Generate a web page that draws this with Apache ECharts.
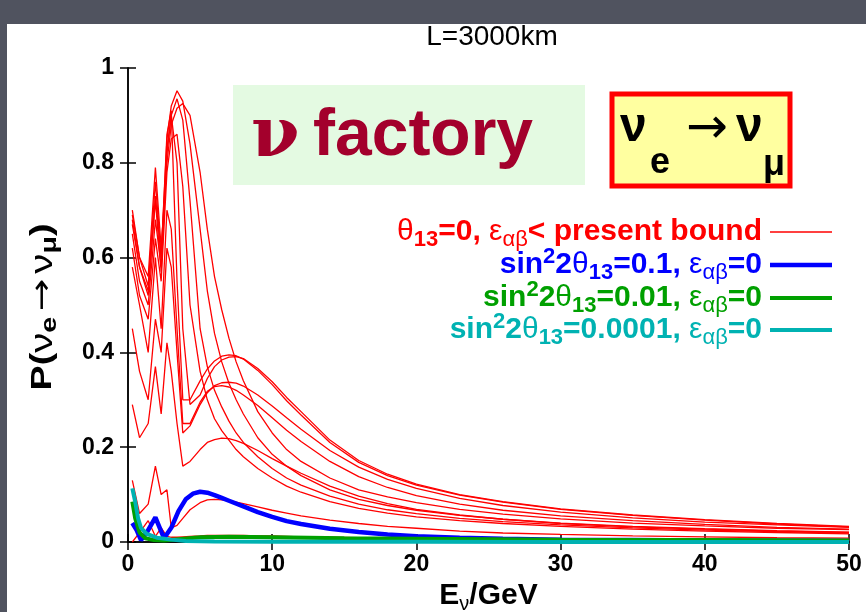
<!DOCTYPE html>
<html><head><meta charset="utf-8">
<script src="https://cdn.jsdelivr.net/npm/echarts@6/dist/echarts.min.js"></script>
<style>html,body{margin:0;padding:0;background:#50535f;}#c{width:866px;height:612px;}</style>
</head><body><div id="c"></div>
<script>
// Energy grid (GeV) shared by the red curves
const E = [0.3, 0.8, 1.4, 1.9, 2.3, 2.7, 3.0, 3.4, 3.8, 4.3, 5, 5.5, 6, 6.5, 7, 7.5, 8, 9, 10, 11, 12, 14, 16, 18, 20, 23, 26, 30, 35, 40, 45, 50];
// theta13=0, NSI eps < present bound (red family)
const redA1 = [0.70, 0.60, 0.56, 0.79, 0.62, 0.80, 0.88, 0.915, 0.925, 0.90, 0.78, 0.66, 0.56, 0.49, 0.43, 0.38, 0.34, 0.275, 0.23, 0.195, 0.17, 0.135, 0.11, 0.095, 0.083, 0.069, 0.059, 0.049, 0.040, 0.034, 0.029, 0.026];
const redA2 = [0.67, 0.58, 0.52, 0.73, 0.60, 0.85, 0.92, 0.952, 0.93, 0.84, 0.66, 0.53, 0.44, 0.38, 0.335, 0.30, 0.27, 0.22, 0.185, 0.16, 0.14, 0.11, 0.09, 0.077, 0.067, 0.056, 0.048, 0.040, 0.033, 0.028, 0.024, 0.021];
const redA3 = [0.65, 0.55, 0.50, 0.68, 0.58, 0.83, 0.90, 0.935, 0.89, 0.72, 0.45, 0.37, 0.32, 0.285, 0.255, 0.23, 0.21, 0.18, 0.155, 0.135, 0.12, 0.097, 0.08, 0.068, 0.06, 0.05, 0.043, 0.036, 0.03, 0.025, 0.022, 0.019];
const redA4 = [0.62, 0.52, 0.47, 0.64, 0.55, 0.78, 0.85, 0.86, 0.75, 0.50, 0.36, 0.30, 0.26, 0.235, 0.215, 0.195, 0.18, 0.155, 0.135, 0.118, 0.105, 0.085, 0.071, 0.061, 0.053, 0.045, 0.039, 0.033, 0.027, 0.023, 0.02, 0.017];
const redB1 = [0.69, 0.60, 0.54, 0.76, 0.60, 0.86, 0.91, 0.55, 0.30, 0.30, 0.34, 0.365, 0.382, 0.392, 0.395, 0.393, 0.386, 0.362, 0.332, 0.298, 0.268, 0.21, 0.168, 0.14, 0.12, 0.099, 0.084, 0.069, 0.056, 0.046, 0.038, 0.032];
const redB2 = [0.68, 0.58, 0.53, 0.72, 0.57, 0.82, 0.90, 0.80, 0.45, 0.29, 0.31, 0.345, 0.37, 0.384, 0.39, 0.391, 0.387, 0.366, 0.338, 0.305, 0.275, 0.215, 0.172, 0.143, 0.122, 0.1, 0.085, 0.07, 0.057, 0.047, 0.039, 0.033];
const redB3 = [0.45, 0.36, 0.30, 0.47, 0.40, 0.62, 0.58, 0.40, 0.23, 0.245, 0.29, 0.315, 0.33, 0.336, 0.337, 0.335, 0.329, 0.31, 0.287, 0.262, 0.238, 0.193, 0.158, 0.132, 0.113, 0.092, 0.077, 0.063, 0.051, 0.042, 0.036, 0.031];
const redB4 = [0.58, 0.50, 0.40, 0.60, 0.45, 0.70, 0.66, 0.45, 0.25, 0.25, 0.295, 0.318, 0.328, 0.33, 0.327, 0.32, 0.31, 0.288, 0.262, 0.236, 0.212, 0.17, 0.138, 0.115, 0.098, 0.08, 0.067, 0.055, 0.045, 0.037, 0.031, 0.027];
const redB5 = [0.29, 0.22, 0.25, 0.37, 0.27, 0.42, 0.36, 0.25, 0.16, 0.17, 0.195, 0.21, 0.216, 0.219, 0.218, 0.214, 0.208, 0.193, 0.176, 0.16, 0.145, 0.118, 0.097, 0.081, 0.069, 0.057, 0.048, 0.039, 0.032, 0.027, 0.023, 0.02];
const redB6 = [0.13, 0.06, 0.08, 0.16, 0.10, 0.11, 0.03, 0.035, 0.05, 0.068, 0.083, 0.089, 0.09, 0.089, 0.087, 0.084, 0.081, 0.074, 0.067, 0.061, 0.055, 0.046, 0.039, 0.033, 0.029, 0.023, 0.019, 0.016, 0.013, 0.011, 0.009, 0.008];
const redC  = [0.0, 0.02, 0.045, 0.012, 0.03, 0.012, 0.01, 0.01, 0.011, 0.012, 0.013, 0.014, 0.014, 0.014, 0.014, 0.014, 0.014, 0.013, 0.013, 0.012, 0.011, 0.01, 0.009, 0.008, 0.008, 0.007, 0.006, 0.005, 0.004, 0.004, 0.003, 0.003];
const redCurves = [redA1, redA2, redA3, redA4, redB1, redB2, redB3, redB4, redB5, redB6, redC];

// sin^2 2theta13 = 0.1, eps = 0
const blueE = [0.3, 0.6, 0.9, 1.3, 1.9, 2.2, 2.5, 3.0, 3.5, 4.0, 4.5, 5, 5.5, 6, 6.5, 7, 8, 9, 10, 11, 12, 14, 16, 18, 20, 23, 26, 30, 35, 40, 50];
const blueV = [0.04, 0.025, 0.004, 0.02, 0.052, 0.03, 0.008, 0.03, 0.065, 0.09, 0.102, 0.106, 0.104, 0.099, 0.093, 0.087, 0.075, 0.063, 0.053, 0.044, 0.038, 0.028, 0.021, 0.016, 0.012, 0.009, 0.007, 0.005, 0.004, 0.003, 0.002];
// sin^2 2theta13 = 0.01
const greenE = [0.3, 0.5, 0.8, 1.2, 1.8, 2.5, 3.5, 5, 7, 10, 15, 20, 30, 40, 50];
const greenV = [0.085, 0.05, 0.02, 0.008, 0.004, 0.003, 0.006, 0.01, 0.011, 0.01, 0.008, 0.007, 0.005, 0.004, 0.003];
// sin^2 2theta13 = 0.0001
const tealE = [0.3, 0.5, 0.7, 0.9, 1.3, 2, 3, 4, 6, 10, 20, 30, 50];
const tealV = [0.113, 0.085, 0.05, 0.03, 0.017, 0.009, 0.005, 0.002, 0.001, 0.0006, 0.0003, 0.0002, 0.0001];

const xTicks = [0, 10, 20, 30, 40, 50];
const yTicks = [0, 0.2, 0.4, 0.6, 0.8, 1];

const FF = 'Liberation Sans, Arial, sans-serif';
const RED = '#ff0000', BLUE = '#0000ff', GREEN = '#00a000', TEAL = '#00b2b2';

function pairs(xs, ys) { return xs.map((x, i) => [x, ys[i]]); }

const series = [];
redCurves.forEach((c, k) => series.push({
  type: 'line', name: 'red' + k, data: pairs(E, c), showSymbol: false, symbol: 'none',
  lineStyle: { color: RED, width: 1.3 }, z: 2
}));
series.push({ type: 'line', name: 'blue', data: pairs(blueE, blueV), symbol: 'none', lineStyle: { color: BLUE, width: 4.5 }, z: 3 });
series.push({ type: 'line', name: 'green', data: pairs(greenE, greenV), symbol: 'none', lineStyle: { color: GREEN, width: 4 }, z: 4 });
series.push({ type: 'line', name: 'teal', data: pairs(tealE, tealV), symbol: 'none', lineStyle: { color: TEAL, width: 4 }, z: 5 });

const axisLineS = { show: true, lineStyle: { color: '#000', width: 1.5 } };
const tickS = { show: true, inside: true, length: 8, lineStyle: { color: '#000', width: 1.5 } };
const lblS = { fontSize: 23, fontWeight: 'bold', color: '#000', fontFamily: FF };

function legRich(color) {
  return {
    n: { fontSize: 30, fontWeight: 'bold', fontFamily: FF, fill: color, color: color, lineHeight: 38, verticalAlign: 'middle' },
    g: { fontSize: 30, fontWeight: 'normal', fontFamily: FF, fill: color, color: color, lineHeight: 38, verticalAlign: 'middle' },
    sb: { fontSize: 22, fontWeight: 'bold', fontFamily: FF, fill: color, color: color, lineHeight: 22, verticalAlign: 'bottom' },
    gs: { fontSize: 22, fontWeight: 'normal', fontFamily: FF, fill: color, color: color, lineHeight: 22, verticalAlign: 'bottom' },
    sp: { fontSize: 22, fontWeight: 'bold', fontFamily: FF, fill: color, color: color, lineHeight: 22, verticalAlign: 'top' }
  };
}
const legend = [
  { text: '{g|θ}{sb|13}{n|=0, }{g|ε}{gs|αβ}{n|< present bound}', color: RED, y: 232, w: 1.3 },
  { text: '{n|sin}{sp|2}{n|2}{g|θ}{sb|13}{n|=0.1, }{g|ε}{gs|αβ}{n|=0}', color: BLUE, y: 265, w: 4.5 },
  { text: '{n|sin}{sp|2}{n|2}{g|θ}{sb|13}{n|=0.01, }{g|ε}{gs|αβ}{n|=0}', color: GREEN, y: 298, w: 4 },
  { text: '{n|sin}{sp|2}{n|2}{g|θ}{sb|13}{n|=0.0001, }{g|ε}{gs|αβ}{n|=0}', color: TEAL, y: 330, w: 4 }
];

const yNameRich = {
  n: { fontSize: 29, fontWeight: 'bold', fontFamily: FF, fill: '#000', lineHeight: 36, verticalAlign: 'middle' },
  g: { fontSize: 31, fontWeight: 'normal', fontFamily: FF, fill: '#000', lineHeight: 36, verticalAlign: 'middle' },
  a: { fontSize: 30, fontWeight: 'normal', fontFamily: 'DejaVu Sans, sans-serif', fill: '#000', lineHeight: 36, verticalAlign: 'middle', padding: [0, 4, 0, 4] },
  s: { fontSize: 22, fontWeight: 'bold', fontFamily: FF, fill: '#000', lineHeight: 20, verticalAlign: 'bottom' }
};

const graphic = [
  { type: 'rect', z: -100, shape: { x: 7, y: 24, width: 866, height: 600 }, style: { fill: '#ffffff' } },
  { type: 'text', z: 11, rotation: Math.PI / 2, scaleX: 1.3, x: 43, y: 307,
    style: { text: '{n|P(}{g|ν}{s|e}{a|→}{g|ν}{s|μ}{n|)}', rich: yNameRich, align: 'center', verticalAlign: 'middle' } },
  { type: 'rect', z: 10, shape: { x: 233, y: 85, width: 352, height: 100 }, style: { fill: '#e4fae2' } },
  { type: 'text', z: 11, style: { text: 'ν', x: 251, y: 138, font: 'bold 70px DejaVu Serif, serif', fill: '#a3002c', verticalAlign: 'middle' } },
  { type: 'text', z: 11, style: { text: 'factory', x: 313, y: 137, font: 'bold 66px ' + FF, fill: '#a3002c', verticalAlign: 'middle' } },
  { type: 'rect', z: 10, shape: { x: 612, y: 94, width: 178, height: 92 }, style: { fill: '#ffffa0', stroke: '#ff0000', lineWidth: 5 } },
  { type: 'text', z: 11, style: { text: 'ν', x: 620, y: 128, font: 'bold 48px ' + FF, fill: '#000', verticalAlign: 'middle' } },
  { type: 'text', z: 11, style: { text: 'e', x: 650, y: 163, font: 'bold 36px ' + FF, fill: '#000', verticalAlign: 'middle' } },
  { type: 'text', z: 11, style: { text: '→', x: 686, y: 130, font: '50px DejaVu Sans, sans-serif', fill: '#000', verticalAlign: 'middle' } },
  { type: 'text', z: 11, style: { text: 'ν', x: 736, y: 128, font: 'bold 48px ' + FF, fill: '#000', verticalAlign: 'middle' } },
  { type: 'text', z: 11, style: { text: 'μ', x: 763, y: 165, font: 'bold 36px ' + FF, fill: '#000', verticalAlign: 'middle' } }
];
legend.forEach(l => {
  graphic.push({ type: 'text', z: 11, style: { text: l.text, rich: legRich(l.color), x: 762, y: l.y, align: 'right', verticalAlign: 'middle', fill: l.color } });
  graphic.push({ type: 'line', z: 11, shape: { x1: 770, y1: l.y, x2: 832, y2: l.y }, style: { stroke: l.color, lineWidth: l.w } });
});

const chart = echarts.init(document.getElementById('c'));
chart.setOption({
  animation: false,
  backgroundColor: '#50535f',
  title: { text: 'L=3000km', left: 487, top: 18, textAlign: 'center', textStyle: { fontSize: 28, fontWeight: 'normal', color: '#000', fontFamily: FF } },
  grid: { left: 128, right: 17, top: 68, bottom: 70, outerBoundsMode: 'none', containLabel: false },
  xAxis: [
    { type: 'value', min: 0, max: 50, interval: 10, position: 'bottom', axisLine: axisLineS, axisTick: tickS, splitLine: { show: false },
      axisLabel: Object.assign({ margin: 11 }, lblS),
      name: '{n|E}{s|ν}{n|/GeV}', nameLocation: 'middle', nameGap: 36,
      nameTextStyle: { rich: { n: { fontSize: 30, fontWeight: 'bold', fontFamily: FF, color: '#000', lineHeight: 36, verticalAlign: 'middle' }, s: { fontSize: 20, fontFamily: FF, color: '#000', lineHeight: 18, verticalAlign: 'bottom' } } } },
    { type: 'value', min: 0, max: 50, interval: 10, position: 'top', axisLine: axisLineS, axisTick: tickS, axisLabel: { show: false }, splitLine: { show: false } }
  ],
  yAxis: [
    { type: 'value', min: 0, max: 1, interval: 0.2, position: 'left', axisLine: axisLineS, axisTick: tickS, splitLine: { show: false },
      axisLabel: Object.assign({ margin: 14 }, lblS) },
    { type: 'value', min: 0, max: 1, interval: 0.2, position: 'right', axisLine: axisLineS, axisTick: tickS, axisLabel: { show: false }, splitLine: { show: false } }
  ],
  series: series,
  graphic: graphic
});
</script></body></html>
